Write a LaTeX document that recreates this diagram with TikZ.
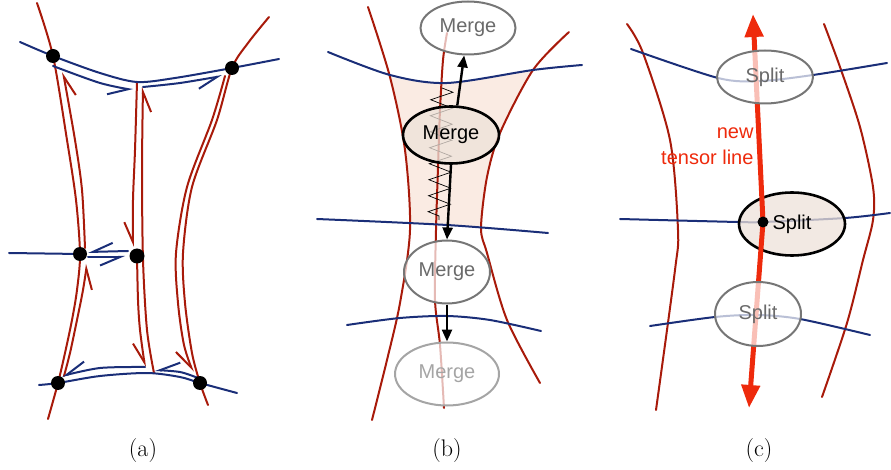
\documentclass[tikz,border=0pt]{standalone}
\usepackage{fontspec}
\newfontfamily\labelfont{Liberation Sans}
\usetikzlibrary{arrows.meta, positioning, shapes.geometric, decorations.pathmorphing}

\definecolor{tred}{RGB}{168,26,10}
\definecolor{tblue}{RGB}{26,46,120}
\definecolor{newred}{RGB}{238,42,12}
\definecolor{regionfill}{RGB}{250,235,227}
\definecolor{opfill}{RGB}{237,226,217}
\definecolor{opgray}{RGB}{118,118,118}
\definecolor{ghostgray}{RGB}{165,165,165}

\begin{document}
\begin{tikzpicture}[x=1pt, y=-1pt,
    redline/.style={tred, line width=2pt, line cap=round},
    blueline/.style={tblue, line width=2pt, line cap=round},
    halfedge/.style={-{Straight Barb[right, length=20pt, width=17pt]}},
    vertex/.style={circle, fill=black, inner sep=0pt, minimum size=14pt},
    op/.style={ellipse, draw=opgray, line width=2pt, fill=white, fill opacity=0.7,
        text opacity=1, text=opgray!90!black, inner sep=0pt,
        font=\labelfont\fontsize{20}{24}\selectfont},
    opcur/.style={op, draw=black, line width=2.6pt, fill=opfill, fill opacity=0.75, text=black},
    opghost/.style={op, draw=ghostgray, text=ghostgray},
    flow/.style={line width=2.4pt, -{Triangle[length=12pt, width=10pt]}},
    tensorarrow/.style={newred, line width=5pt, -{Triangle[length=23pt, width=18pt]}},
    caption/.style={font=\fontsize{24}{28}\selectfont}
]
    \useasboundingbox (0,0) rectangle (891,470);

    % (a) half-edges around the degenerate points
    \coordinate (tl) at (53,56);
    \coordinate (tr) at (232,68);
    \coordinate (ml) at (80,254);
    \coordinate (mr) at (137,256);
    \coordinate (bl) at (58,383);
    \coordinate (br) at (200,383);

    \draw[redline] plot[smooth] coordinates {(37,3) (tl) (67,140) (76,200) (ml) (77,290) (72,320) (65,353) (bl) (48,419)};
    \draw[redline, halfedge] plot[smooth] coordinates {(85,248) (82,190) (75,140) (63,72)};
    \draw[redline, halfedge] plot[smooth] coordinates {(64,376) (70,353) (77,320) (83,290) (87,264)};
    \draw[redline, halfedge] plot[smooth] coordinates {(137,82) (135,150) (133,200) (133,247)};
    \draw[redline, halfedge] plot[smooth] coordinates {(mr) (138,300) (140,330) (145,367)};
    \draw[redline, halfedge] plot[smooth] coordinates {(154,373) (147,330) (143,260) (142,170) (143,87)};
    \draw[redline] plot[smooth] coordinates {(269,17) (248,43) (tr) (217,120) (192,187) (183,253) (185,303) (192,353) (br) (208,405)};
    \draw[redline, halfedge] plot[smooth] coordinates {(225,76) (212,120) (187,187) (176,253) (178,303) (184,345) (193,372)};

    \draw[blueline] plot[smooth] coordinates {(20,42) (tl) (100,73) (137,82) (175,78) (tr) (279,59)};
    \draw[blueline, halfedge] plot[smooth] coordinates {(53,66) (100,83) (133,90)};
    \draw[blueline, halfedge] plot[smooth] coordinates {(143,87) (180,83) (222,76)};
    \draw[blueline] (9,253) -- (ml);
    \draw[blueline, halfedge] (128,251) -- (88,252);
    \draw[blueline, halfedge] (88,257) -- (125,257);
    \draw[blueline] plot[smooth] coordinates {(39,385) (bl) (100,376) (147,373) (180,377) (br) (237,393)};
    \draw[blueline, halfedge] plot[smooth] coordinates {(145,367) (100,368) (62,376)};
    \draw[blueline, halfedge] plot[smooth] coordinates {(198,378) (180,372) (155,370)};

    \node[vertex] (tlv) at (tl) {};
    \node[vertex] (trv) at (tr) {};
    \node[vertex] (mlv) at (ml) {};
    \node[vertex, minimum size=15pt] (mrv) at (mr) {};
    \node[vertex] (blv) at (bl) {};
    \node[vertex] (brv) at (br) {};

    % (b) merging
    \fill[regionfill] plot[smooth] coordinates {(390,77) (420,82) (447,83) (490,78) (533,70)}
        -- plot[smooth] coordinates {(533,70) (500,133) (487,177) (482,228)}
        -- (410,222)
        -- plot[smooth] coordinates {(410,222) (408,170) (400,120) (390,77)} -- cycle;

    \draw[redline] plot[smooth] coordinates {(368,7) (390,77) (405,150) (410,230) (400,303) (387,360) (372,420)};
    \draw[redline] plot[smooth] coordinates {(569,32) (533,70) (500,133) (487,177) (481,228) (487,253) (507,320) (540,383)};
    \draw[redline] plot[smooth] coordinates {(447,33) (443,60) (440,110) (438,167) (436,230) (435,300) (440,345) (444,408)};
    \draw[blueline] plot[smooth] coordinates {(328,52) (390,75) (447,83) (533,70) (582,65)};
    \draw[blueline] plot[smooth] coordinates {(317,219) (447,225) (548,233)};
    \draw[blueline] plot[smooth] coordinates {(347,325) (400,318) (447,316) (490,320) (541,331)};
    \draw[line width=0.7pt, decorate, decoration={zigzag, segment length=16pt, amplitude=11pt}] (442,88) -- (439,220);

    \node[op, minimum width=95pt, minimum height=53pt] (mtop) at (468,28) {Merge};
    \node[opcur, minimum width=96pt, minimum height=57pt] (mmid) at (451,135) {Merge};
    \node[op, minimum width=86pt, minimum height=63pt] (mlow) at (447,272) {Merge};
    \node[opghost, minimum width=104pt, minimum height=63pt] (mghost) at (447,374) {Merge};

    \draw[flow] (mmid.78) -- (mtop.262);
    \draw[flow] (mmid.south) -- (mlow.north);
    \draw[flow] (mlow.south) -- (mghost.north);

    % (c) splitting
    \draw[redline] plot[smooth] coordinates {(627,24) (643,53) (670,140) (678,230) (675,270) (656,410)};
    \draw[redline] plot[smooth] coordinates {(824,24) (840,67) (860,127) (873,187) (873,220) (863,260) (847,323) (822,397)};
    \draw[blueline] plot[smooth] coordinates {(631,49) (718,78) (760,81) (813,75) (887,63)};
    \draw[blueline] plot[smooth] coordinates {(620,219) (738,222) (763,222) (845,218) (890,213)};
    \draw[blueline] plot[smooth] coordinates {(650,326) (715,317) (757,315) (800,319) (870,335)};

    \node[opcur, minimum width=106pt, minimum height=63pt] (scur) at (792,224) {Split};
    \coordinate (seed) at (763,222);
    \coordinate (uptip) at (753,14);
    \coordinate (downtip) at (749,408);
    \draw[tensorarrow] (seed) -- (uptip);
    \draw[tensorarrow] (seed) -- (downtip);
    \node[circle, fill=black, inner sep=0pt, minimum size=11pt] (seedv) at (seed) {};

    \node[op, minimum width=96pt, minimum height=53pt] (stop) at (765,77) {Split};
    \node[op, minimum width=86pt, minimum height=64pt] (slow) at (758,314) {Split};

    \node[anchor=east, align=right, text=newred, font=\labelfont\fontsize{20}{26}\selectfont] (lbl) at (757,146) {new\\tensor line};

    \node[caption] (capa) at (143,451) {(a)};
    \node[caption] (capb) at (447,451) {(b)};
    \node[caption] (capc) at (759,451) {(c)};
\end{tikzpicture}
\end{document}
